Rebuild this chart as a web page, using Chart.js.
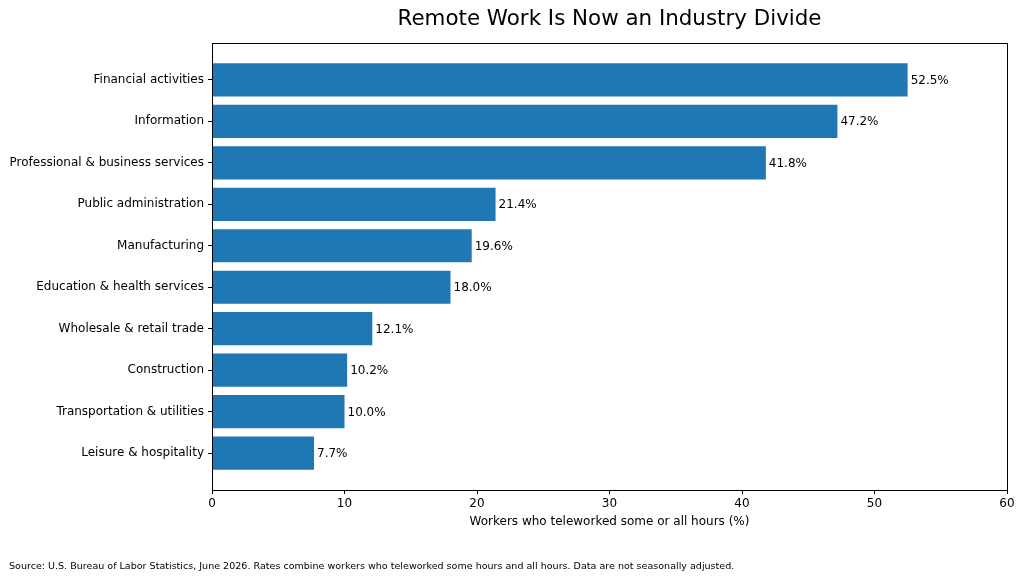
<!DOCTYPE html>
<html>
<head>
<meta charset="utf-8">
<script src="https://cdn.jsdelivr.net/npm/chart.js@4"></script>
<style>
  html, body { margin: 0; padding: 0; background: #fff; }
  #wrap { width: 1024px; height: 579px; }
</style>
</head>
<body>
<div id="wrap"><canvas id="remote-work-chart" width="1024" height="579"></canvas></div>
<script>
const industries = [
    'Financial activities',
    'Information',
    'Professional & business services',
    'Public administration',
    'Manufacturing',
    'Education & health services',
    'Wholesale & retail trade',
    'Construction',
    'Transportation & utilities',
    'Leisure & hospitality',
];
const teleworkRates = [52.5, 47.2, 41.8, 21.4, 19.6, 18.0, 12.1, 10.2, 10.0, 7.7];
const xTicks = [0, 10, 20, 30, 40, 50, 60];

const chartTitle = 'Remote Work Is Now an Industry Divide';
const xTitle = 'Workers who teleworked some or all hours (%)';
const sourceNote = 'Source: U.S. Bureau of Labor Statistics, June 2026. Rates combine workers who teleworked some hours and all hours. Data are not seasonally adjusted.';

const FONT = "'DejaVu Sans', sans-serif";

// frame, title, value labels and source line
const extras = {
    id: 'extras',
    afterDraw(chart) {
        const { ctx, chartArea: a } = chart;
        ctx.save();
        ctx.strokeStyle = '#000';
        ctx.lineWidth = 1;
        ctx.strokeRect(Math.round(a.left) + 0.5, Math.round(a.top) + 0.5,
            Math.round(a.right - a.left), Math.round(a.bottom - a.top));

        ctx.fillStyle = '#000';
        ctx.font = '12px ' + FONT;
        ctx.textAlign = 'left';
        ctx.textBaseline = 'middle';
        chart.getDatasetMeta(0).data.forEach((bar, i) => {
            ctx.fillText(teleworkRates[i].toFixed(1) + '%', bar.x + 3, bar.y + 1);
        });

        ctx.font = '21.4px ' + FONT;
        ctx.textAlign = 'center';
        ctx.textBaseline = 'alphabetic';
        ctx.fillText(chartTitle, (a.left + a.right) / 2, 25);

        ctx.font = '9.55px ' + FONT;
        ctx.textAlign = 'left';
        ctx.fillText(sourceNote, 9, 569);
        ctx.restore();
    }
};

new Chart(document.getElementById('remote-work-chart'), {
    type: 'bar',
    data: {
        datasets: [{
            data: teleworkRates.map((v, i) => ({ x: v, y: i })),
            backgroundColor: '#1f77b4',
            borderWidth: 0,
            barPercentage: 0.8,
            categoryPercentage: 1.0,
        }]
    },
    options: {
        indexAxis: 'y',
        responsive: false,
        animation: false,
        devicePixelRatio: 1,
        layout: { padding: { top: 43, right: 17, left: 0, bottom: 50 } },
        plugins: {
            legend: { display: false },
            tooltip: { enabled: false },
        },
        scales: {
            x: {
                type: 'linear',
                min: 0,
                max: 60,
                afterBuildTicks(s) { s.ticks = xTicks.map(v => ({ value: v })); },
                afterFit(s) { s.height = 39; },
                grid: { drawOnChartArea: false, drawTicks: true, tickLength: 4, color: '#000' },
                border: { display: false },
                ticks: { color: '#000', font: { family: FONT, size: 12 }, padding: 3 },
                title: {
                    display: true, text: xTitle, color: '#000',
                    font: { family: FONT, size: 12 }, padding: { top: 0, bottom: 0 }
                },
            },
            y: {
                type: 'linear',
                reverse: true,
                offset: false,
                min: -0.89,
                max: 9.89,
                afterBuildTicks(s) { s.ticks = industries.map((_, i) => ({ value: i })); },
                afterFit(s) { s.width = 212; },
                grid: { offset: false, drawOnChartArea: false, drawTicks: true, tickLength: 4, color: '#000' },
                border: { display: false },
                ticks: {
                    color: '#000', font: { family: FONT, size: 12 }, padding: 4,
                    autoSkip: false,
                    callback: v => industries[v],
                },
            },
        },
    },
    plugins: [extras],
});
</script>
</body>
</html>
